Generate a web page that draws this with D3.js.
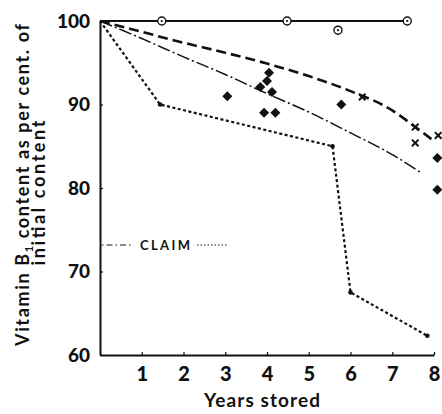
<!DOCTYPE html>
<html>
<head>
<meta charset="utf-8">
<script src="https://cdn.jsdelivr.net/npm/d3@7"></script>
<style>
  body { margin: 0; background: #fff; }
  svg { display: block; }
  text { font-family: Lato, "DejaVu Sans", sans-serif; fill: #111; }
</style>
</head>
<body>
<div id="chart"></div>
<script>
// values (years stored, % of initial vitamin B1)
const xTicks = [1, 2, 3, 4, 5, 6, 7, 8];
const yTicks = [60, 70, 80, 90, 100];

// solid reference line at 100 and its open circles
const solidLine = [[0, 100], [7.35, 100]];
const openCircles = [[1.48, 100], [4.48, 100], [5.7, 98.9], [7.36, 100]];

// long-dash curve
const dashCurve = [[0, 100], [1, 98.7], [2, 97.4], [3, 96.2], [4, 94.9], [5, 93.4], [6, 91.6], [7, 89.3], [7.5, 87.5], [8.03, 85.5]];

// dash-dot curve
const dashDotCurve = [[0, 100], [1, 97.9], [2, 95.7], [3, 93.6], [4, 91.3], [5, 89.1], [6, 86.6], [7, 84], [7.7, 81.8]];

// dotted broken line ("claim")
const dottedLine = [[0, 100], [1.44, 90], [5.57, 85], [6.0, 67.5], [7.84, 62.3]];

// filled diamonds
const diamonds = [[3.05, 91.0], [4.05, 93.8], [4.0, 92.8], [3.84, 92.1], [4.12, 91.5], [3.93, 89.0], [4.2, 89.0], [5.78, 90.0], [8.08, 83.6], [8.08, 79.8]];

// crosses
const crosses = [[6.28, 90.9], [7.55, 87.3], [7.55, 85.4], [8.1, 86.3]];

const W = 442, H = 414;

const svg = d3.select("#chart").append("svg")
  .attr("width", W)
  .attr("height", H);

const x = d3.scaleLinear().domain([0, 8]).range([100, 434]);
const y = d3.scaleLinear().domain([60, 100]).range([355, 21]);

// axes
const yAxis = svg.append("g")
  .attr("transform", `translate(${x(0)},0)`)
  .call(d3.axisLeft(y).tickValues(yTicks).tickSizeInner(-3).tickSizeOuter(0).tickPadding(10));

const xAxis = svg.append("g")
  .attr("transform", `translate(0,${y(60)})`)
  .call(d3.axisBottom(x).tickValues(xTicks).tickSizeInner(-3).tickSizeOuter(0).tickPadding(12));

[yAxis, xAxis].forEach(g => {
  g.select(".domain").attr("stroke", "#111").attr("stroke-width", 2);
  g.selectAll(".tick line").attr("stroke", "#111").attr("stroke-width", 1.2);
  g.selectAll(".tick text")
    .style("font-family", "Lato, sans-serif")
    .style("font-weight", "900")
    .attr("fill", "#111");
});
yAxis.selectAll(".tick text").style("font-size", "19px");
xAxis.selectAll(".tick text").style("font-size", "20px");

const line = d3.line().x(d => x(d[0])).y(d => y(d[1]));
const smooth = d3.line().x(d => x(d[0])).y(d => y(d[1])).curve(d3.curveMonotoneX);

svg.append("path")
  .datum(solidLine)
  .attr("fill", "none")
  .attr("stroke", "#111")
  .attr("stroke-width", 2)
  .attr("d", line);

svg.append("path")
  .datum(dashCurve)
  .attr("fill", "none")
  .attr("stroke", "#111")
  .attr("stroke-width", 2.6)
  .attr("stroke-dasharray", "10,5")
  .attr("d", smooth);

svg.append("path")
  .datum(dashDotCurve)
  .attr("fill", "none")
  .attr("stroke", "#111")
  .attr("stroke-width", 1.5)
  .attr("stroke-dasharray", "13,3,2,3")
  .attr("d", smooth);

svg.append("path")
  .datum(dottedLine)
  .attr("fill", "none")
  .attr("stroke", "#111")
  .attr("stroke-width", 2.2)
  .attr("stroke-dasharray", "3,2.5")
  .attr("d", line);

// small dots on the corners of the dotted line
svg.selectAll(".corner")
  .data(dottedLine.slice(1))
  .join("circle")
  .attr("cx", d => x(d[0]))
  .attr("cy", d => y(d[1]))
  .attr("r", 2.3)
  .attr("fill", "#111");

// open circles with a dot inside
const oc = svg.selectAll(".oc")
  .data(openCircles)
  .join("g")
  .attr("transform", d => `translate(${x(d[0])},${y(d[1])})`);
oc.append("circle").attr("r", 4).attr("fill", "#fff").attr("stroke", "#111").attr("stroke-width", 1.4);
oc.append("circle").attr("r", 1.1).attr("fill", "#111");

// diamonds
svg.selectAll(".dia")
  .data(diamonds)
  .join("path")
  .attr("d", d3.symbol().type(d3.symbolSquare).size(50))
  .attr("transform", d => `translate(${x(d[0])},${y(d[1])}) rotate(45)`)
  .attr("fill", "#111");

// crosses
svg.selectAll(".cross")
  .data(crosses)
  .join("path")
  .attr("d", d3.symbol().type(d3.symbolTimes).size(30))
  .attr("transform", d => `translate(${x(d[0])},${y(d[1])})`)
  .attr("fill", "none")
  .attr("stroke", "#111")
  .attr("stroke-width", 2);

// "CLAIM" key
const keyY = 245;
svg.append("line")
  .attr("x1", 102).attr("x2", 133).attr("y1", keyY).attr("y2", keyY)
  .attr("stroke", "#111").attr("stroke-width", 1.2)
  .attr("stroke-dasharray", "1.5,3,6,3");
svg.append("line")
  .attr("x1", 197).attr("x2", 228).attr("y1", keyY).attr("y2", keyY)
  .attr("stroke", "#111").attr("stroke-width", 1.2)
  .attr("stroke-dasharray", "1.5,2");
svg.append("text")
  .attr("x", 140).attr("y", keyY + 5)
  .attr("textLength", 50)
  .style("font-size", "13px")
  .style("font-weight", "bold")
  .text("CLAIM");

// axis titles
svg.append("text")
  .attr("x", 262).attr("y", 407)
  .attr("text-anchor", "middle")
  .attr("textLength", 116)
  .style("font-size", "19px")
  .style("font-weight", "bold")
  .text("Years stored");

const yl1 = svg.append("text")
  .attr("transform", "translate(29,185) rotate(-90)")
  .attr("text-anchor", "middle")
  .attr("textLength", 322)
  .style("font-size", "18px")
  .style("font-weight", "bold");
yl1.append("tspan").text("Vitamin B");
yl1.append("tspan").attr("dy", 4).style("font-size", "11px").text("1");
yl1.append("tspan").attr("dy", -4).text(" content as per cent. of");

svg.append("text")
  .attr("transform", "translate(45,193) rotate(-90)")
  .attr("text-anchor", "middle")
  .attr("textLength", 145)
  .style("font-size", "18px")
  .style("font-weight", "bold")
  .text("initial content");
</script>
</body>
</html>
